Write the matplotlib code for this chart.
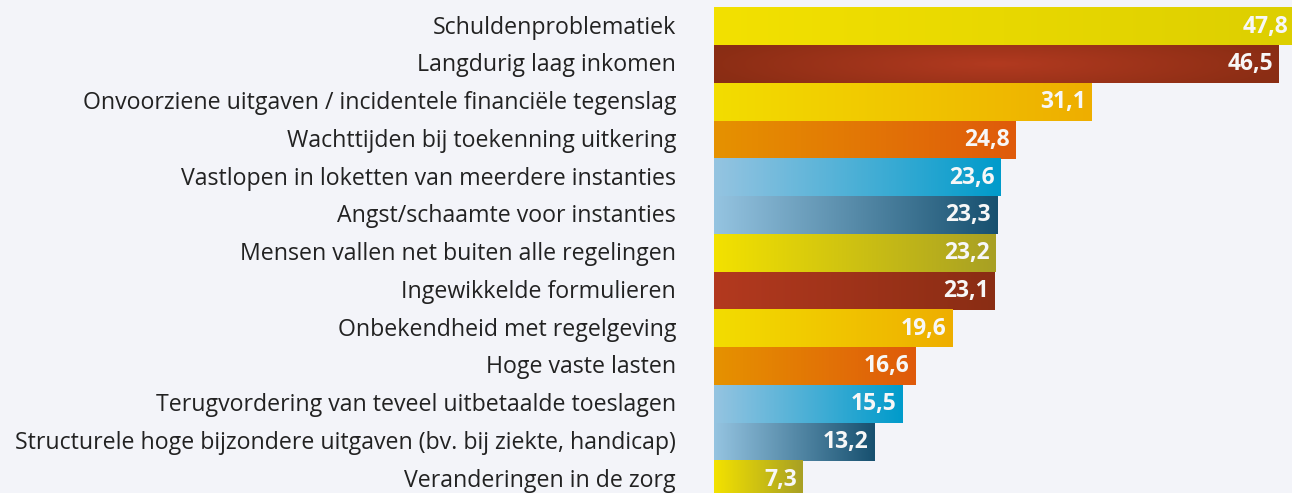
import numpy as np
import matplotlib
matplotlib.use("Agg")
import matplotlib.pyplot as plt
from matplotlib.colors import to_rgb
import matplotlib.transforms as mtransforms

categories = [
    "Schuldenproblematiek",
    "Langdurig laag inkomen",
    "Onvoorziene uitgaven / incidentele financiële tegenslag",
    "Wachttijden bij toekenning uitkering",
    "Vastlopen in loketten van meerdere instanties",
    "Angst/schaamte voor instanties",
    "Mensen vallen net buiten alle regelingen",
    "Ingewikkelde formulieren",
    "Onbekendheid met regelgeving",
    "Hoge vaste lasten",
    "Terugvordering van teveel uitbetaalde toeslagen",
    "Structurele hoge bijzondere uitgaven (bv. bij ziekte, handicap)",
    "Veranderingen in de zorg",
]
values = [47.8, 46.5, 31.1, 24.8, 23.6, 23.3, 23.2, 23.1, 19.6, 16.6, 15.5, 13.2, 7.3]
value_labels = ["47,8", "46,5", "31,1", "24,8", "23,6", "23,3", "23,2", "23,1",
                "19,6", "16,6", "15,5", "13,2", "7,3"]

# gradient styles: (start colour, end colour, kind)
styles = [
    ("#f3e100", "#ddcf00", "linear"),
    ("#8a2d14", "#b23a20", "radial"),
    ("#f3dd00", "#eeae00", "linear"),
    ("#e69200", "#df5a0b", "linear"),
    ("#95c4e1", "#009bcb", "linear"),
    ("#95c4e1", "#17506f", "linear"),
    ("#f3e200", "#a8a024", "linear"),
    ("#b3391f", "#8a2d14", "linear"),
    ("#f3dd00", "#eeae00", "linear"),
    ("#e69200", "#df5a0b", "linear"),
    ("#95c4e1", "#009bcb", "linear"),
    ("#95c4e1", "#17506f", "linear"),
    ("#f3e200", "#a8a024", "linear"),
]

BG = "#f3f4f9"
W, H = 1292, 493
fig = plt.figure(figsize=(W / 100, H / 100), dpi=100, facecolor=BG)
ax = fig.add_axes([714 / W, 0, 578 / W, 1])
ax.set_facecolor(BG)

pitch = 37.75
top_c = 26.5
ymin = -top_c / pitch
ymax = (H - top_c) / pitch
ppu = 12.15
xmax = 578 / ppu

def grad_img(c0, c1, kind, n=256):
    c0 = np.array(to_rgb(c0)); c1 = np.array(to_rgb(c1))
    x = np.linspace(0, 1, n)
    if kind == "radial":
        yy = np.linspace(-1, 1, 32)[:, None]
        xx = (x[None, :] - 0.5) * 2
        d = np.sqrt(xx ** 2 * 0.9 + yy ** 2 * 0.25)
        t = np.clip(1 - d, 0, 1)
    else:
        t = np.tile(x, (2, 1))
    img = c0[None, None, :] * (1 - t[..., None]) + c1[None, None, :] * t[..., None]
    return img

for i, (v, st) in enumerate(zip(values, styles)):
    img = grad_img(*st)
    ax.imshow(img, extent=[0, v, i + 0.5, i - 0.5], aspect="auto",
              interpolation="bilinear", zorder=2)
    ax.text(v - 6 / ppu, i + 0.0, value_labels[i], ha="right", va="center",
            color="#f7f7f7", fontsize=16.5, fontweight="bold", family="Open Sans",
            zorder=3, clip_on=True)

ax.set_xlim(0, xmax)
ax.set_ylim(ymax, ymin)
ax.set_yticks(range(len(categories)))
ax.set_yticklabels(categories, fontsize=16.7, family="Open Sans", color="#222222")
ax.tick_params(axis="y", length=0, pad=38 * 0.72)
shift = mtransforms.ScaledTranslation(0, 2 / 100, fig.dpi_scale_trans)
for lab in ax.get_yticklabels():
    lab.set_transform(lab.get_transform() + shift)
ax.set_xticks([])
for s in ax.spines.values():
    s.set_visible(False)

fig.savefig("out.png", dpi=100, facecolor=BG)
